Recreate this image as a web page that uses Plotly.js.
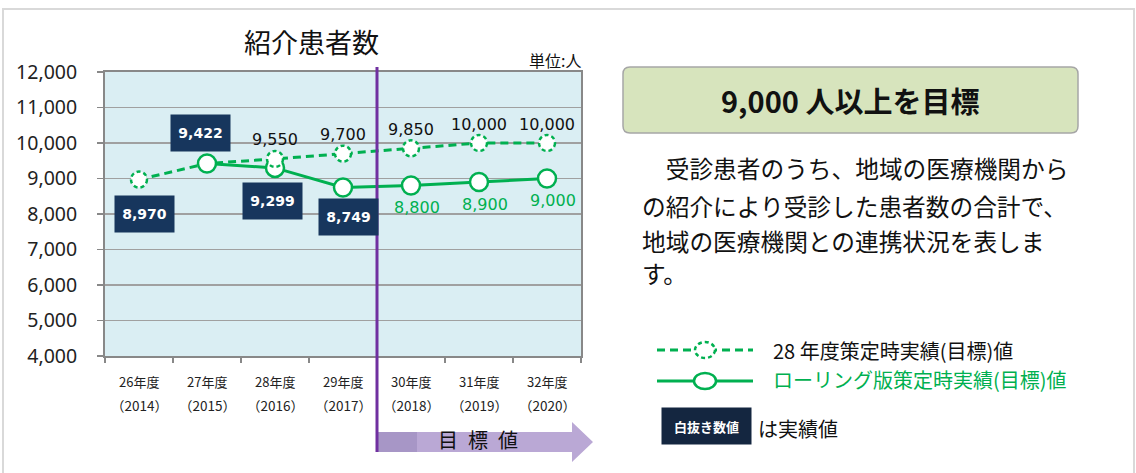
<!DOCTYPE html>
<html>
<head>
<meta charset="utf-8">
<script src="https://cdn.plot.ly/plotly-3.0.1.min.js"></script>
<style>html,body{margin:0;padding:0;background:#fff;}#chart{width:1136px;height:473px;}</style>
</head>
<body>
<div id="chart"></div>
<script>
// ---- data ----
const categories = ['26年度','27年度','28年度','29年度','30年度','31年度','32年度'];
const years = ['（2014）','（2015）','（2016）','（2017）','（2018）','（2019）','（2020）'];
const target28 = [8970, 9422, 9550, 9700, 9850, 10000, 10000];
const rolling = [null, 9422, 9299, 8749, 8800, 8900, 9000];
const actual = [8970, 9422, 9299, 8749, null, null, null];
const yTicks = [4000, 5000, 6000, 7000, 8000, 9000, 10000, 11000, 12000];

// ---- styling ----
const GREEN = '#00B050';
const NAVY = '#17365d';
const CJK = '"Noto Sans CJK JP", "Noto Sans", sans-serif';
const NUM = '"DejaVu Sans", "Noto Sans CJK JP", sans-serif';
const L = 105, R = 581, T = 72, B = 356;
const PX = x => (x - L) / (R - L);
const PY = y => (B - y) / (B - T);
const boxOffsets = [[5, -34], [-7, 31], [-3, -33], [5, -30]];

const traces = [
  {x: categories, y: target28, type: 'scatter', mode: 'lines',
   line: {color: GREEN, width: 3, dash: '8px,5px'}, hoverinfo: 'skip', showlegend: false},
  {x: categories, y: rolling, type: 'scatter', mode: 'lines+markers',
   line: {color: GREEN, width: 3}, connectgaps: false,
   marker: {symbol: 'circle', size: 18, color: '#ffffff', line: {color: GREEN, width: 2.5}},
   hoverinfo: 'skip', showlegend: false}
];

const shapes = [];
const annotations = [];

// dashed circle markers for the 28年度 series (where not covered by solid markers)
target28.forEach((v, i) => {
  if (rolling[i] === v) return;
  shapes.push({type: 'circle', xref: 'x', yref: 'y', xsizemode: 'pixel', ysizemode: 'pixel',
    xanchor: i, yanchor: v, x0: -8, x1: 8, y0: -8, y1: 8,
    fillcolor: '#ffffff', line: {color: GREEN, width: 2.5, dash: '4px,3px'}, layer: 'above'});
});

// dashed-series value labels (targets)
target28.forEach((v, i) => {
  if (actual[i] === v) return;
  annotations.push({x: categories[i], y: v, xref: 'x', yref: 'y', text: v.toLocaleString('en-US'),
    showarrow: false, yshift: 19, font: {family: NUM, size: 16, color: '#111'}});
});
// rolling-series target labels
rolling.forEach((v, i) => {
  if (v === null || actual[i] !== null) return;
  annotations.push({x: categories[i], y: v, xref: 'x', yref: 'y', text: v.toLocaleString('en-US'),
    showarrow: false, yshift: -22, xshift: 6, font: {family: NUM, size: 16, color: GREEN}});
});
// actual values in dark boxes
actual.forEach((v, i) => {
  if (v === null) return;
  const o = boxOffsets[i] || [0, -32];
  annotations.push({x: categories[i], y: v, xref: 'x', yref: 'y', text: '<b>' + v.toLocaleString('en-US') + '</b>',
    showarrow: false, xshift: o[0], yshift: o[1], width: 57, height: 34, bgcolor: NAVY,
    font: {family: NUM, size: 14, color: '#ffffff'}});
});

// category labels
categories.forEach((c, i) => {
  annotations.push({x: c, y: PY(381), xref: 'x', yref: 'paper', text: c, showarrow: false,
    font: {family: CJK, size: 13, color: '#222'}});
  annotations.push({x: c, y: PY(405), xref: 'x', yref: 'paper', text: years[i], showarrow: false,
    font: {family: CJK, size: 13.5, color: '#222'}});
});

// purple divider and target arrow
shapes.push({type: 'path', xref: 'paper', yref: 'paper', layer: 'below',
  path: `M ${PX(377)} ${PY(432)} L ${PX(417)} ${PY(432)} L ${PX(417)} ${PY(452)} L ${PX(377)} ${PY(452)} Z`,
  fillcolor: '#a796c6', line: {width: 0}});
shapes.push({type: 'path', xref: 'paper', yref: 'paper', layer: 'below',
  path: `M ${PX(417)} ${PY(432)} L ${PX(572)} ${PY(432)} L ${PX(572)} ${PY(422)} L ${PX(593)} ${PY(442)} L ${PX(572)} ${PY(462)} L ${PX(572)} ${PY(452)} L ${PX(417)} ${PY(452)} Z`,
  fillcolor: '#baa8d5', line: {width: 0}});
shapes.push({type: 'line', xref: 'x', yref: 'paper', x0: 3.5, x1: 3.5, y0: PY(452), y1: PY(67),
  line: {color: '#7030A0', width: 3}, layer: 'above'});
annotations.push({x: PX(478), y: PY(439), xref: 'paper', yref: 'paper', text: '目\u2002標\u2002値',
  showarrow: false, font: {family: CJK, size: 20, color: '#111'}});

// outer frame
shapes.push({type: 'rect', xref: 'paper', yref: 'paper', x0: PX(3), x1: PX(1134), y0: PY(480), y1: PY(9),
  line: {color: '#d9d9d9', width: 2}, layer: 'below'});

// title and unit
annotations.push({x: PX(311), y: PY(41), xref: 'paper', yref: 'paper', text: '紹介患者数', showarrow: false,
  font: {family: CJK, size: 27, color: '#111'}});
annotations.push({x: PX(583), y: PY(60), xref: 'paper', yref: 'paper', text: '単位:人', showarrow: false,
  xanchor: 'right', font: {family: CJK, size: 16, color: '#111'}});

// right-side goal box
shapes.push({type: 'path', xref: 'paper', yref: 'paper', layer: 'below',
  path: (() => {
    const x0 = 623, x1 = 1078, y0 = 67, y1 = 133, r = 7;
    return `M ${PX(x0 + r)} ${PY(y0)} L ${PX(x1 - r)} ${PY(y0)} Q ${PX(x1)} ${PY(y0)} ${PX(x1)} ${PY(y0 + r)} ` +
      `L ${PX(x1)} ${PY(y1 - r)} Q ${PX(x1)} ${PY(y1)} ${PX(x1 - r)} ${PY(y1)} L ${PX(x0 + r)} ${PY(y1)} ` +
      `Q ${PX(x0)} ${PY(y1)} ${PX(x0)} ${PY(y1 - r)} L ${PX(x0)} ${PY(y0 + r)} Q ${PX(x0)} ${PY(y0)} ${PX(x0 + r)} ${PY(y0)} Z`;
  })(),
  fillcolor: '#d7e4bd', line: {color: '#a6a6a6', width: 1.5}});
annotations.push({x: PX(850), y: PY(100), xref: 'paper', yref: 'paper', text: '<b>9,000 人以上を目標</b>',
  showarrow: false, font: {family: CJK, size: 29, color: '#111'}});

const para = ['\u3000受診患者のうち、地域の医療機関から', 'の紹介により受診した患者数の合計で、',
  '地域の医療機関との連携状況を表しま', 'す。'];
const paraY = [168, 206, 241, 273];
para.forEach((t, i) => {
  annotations.push({x: PX(640), y: PY(paraY[i]), xref: 'paper', yref: 'paper', text: t, showarrow: false,
    xanchor: 'left', font: {family: CJK, size: 23.7, color: '#111'}});
});

// custom legend
shapes.push({type: 'line', xref: 'paper', yref: 'paper', x0: PX(657), x1: PX(753), y0: PY(350), y1: PY(350),
  line: {color: GREEN, width: 3, dash: '8px,5px'}});
shapes.push({type: 'circle', xref: 'paper', yref: 'paper', xsizemode: 'pixel', ysizemode: 'pixel',
  xanchor: PX(705), yanchor: PY(350), x0: -10, x1: 10, y0: -8, y1: 8,
  fillcolor: '#ffffff', line: {color: GREEN, width: 2.5, dash: '4px,3px'}});
shapes.push({type: 'line', xref: 'paper', yref: 'paper', x0: PX(657), x1: PX(753), y0: PY(381), y1: PY(381),
  line: {color: GREEN, width: 3}});
shapes.push({type: 'circle', xref: 'paper', yref: 'paper', xsizemode: 'pixel', ysizemode: 'pixel',
  xanchor: PX(705), yanchor: PY(381), x0: -11, x1: 11, y0: -8, y1: 8,
  fillcolor: '#ffffff', line: {color: GREEN, width: 2.5}});
annotations.push({x: PX(771), y: PY(350), xref: 'paper', yref: 'paper', text: '28 年度策定時実績(目標)値',
  showarrow: false, xanchor: 'left', font: {family: CJK, size: 20, color: '#111'}});
annotations.push({x: PX(771), y: PY(380), xref: 'paper', yref: 'paper', text: 'ローリング版策定時実績(目標)値',
  showarrow: false, xanchor: 'left', font: {family: CJK, size: 20, color: GREEN}});
annotations.push({x: PX(706), y: PY(426), xref: 'paper', yref: 'paper', text: '<b>白抜き数値</b>',
  showarrow: false, width: 87, height: 34, bgcolor: '#142640',
  font: {family: CJK, size: 13, color: '#ffffff'}});
annotations.push({x: PX(756), y: PY(428), xref: 'paper', yref: 'paper', text: 'は実績値',
  showarrow: false, xanchor: 'left', font: {family: CJK, size: 20, color: '#111'}});

annotations.forEach(a => {
  if (a.xanchor === undefined) a.xanchor = 'center';
  if (a.yanchor === undefined) a.yanchor = 'middle';
});

const layout = {
  width: 1136, height: 473,
  margin: {l: L, r: 1136 - R, t: T, b: 473 - B, pad: 0},
  paper_bgcolor: '#ffffff', plot_bgcolor: '#daeef3',
  showlegend: false,
  xaxis: {type: 'category', categoryarray: categories, range: [-0.5, 6.5], showgrid: false,
    showticklabels: false, ticks: 'outside', tickson: 'boundaries', ticklen: 5, tickcolor: '#888', tickwidth: 1.5,
    showline: true, linecolor: '#888', linewidth: 2, mirror: true, fixedrange: true, zeroline: false},
  yaxis: {range: [4000, 12000], tickvals: yTicks, tickformat: ',', ticks: 'outside', ticklen: 6,
    tickcolor: '#888', tickwidth: 1.5, ticklabelstandoff: 16,
    showline: true, linecolor: '#888', linewidth: 2, mirror: true,
    gridcolor: '#a0a0a0', gridwidth: 1.5, zeroline: false, fixedrange: true,
    tickfont: {family: '"Noto Sans", "Noto Sans CJK JP", sans-serif', size: 19.5, color: '#222'}},
  shapes: shapes,
  annotations: annotations
};

Plotly.newPlot('chart', traces, layout, {displayModeBar: false, staticPlot: true});
</script>
</body>
</html>
